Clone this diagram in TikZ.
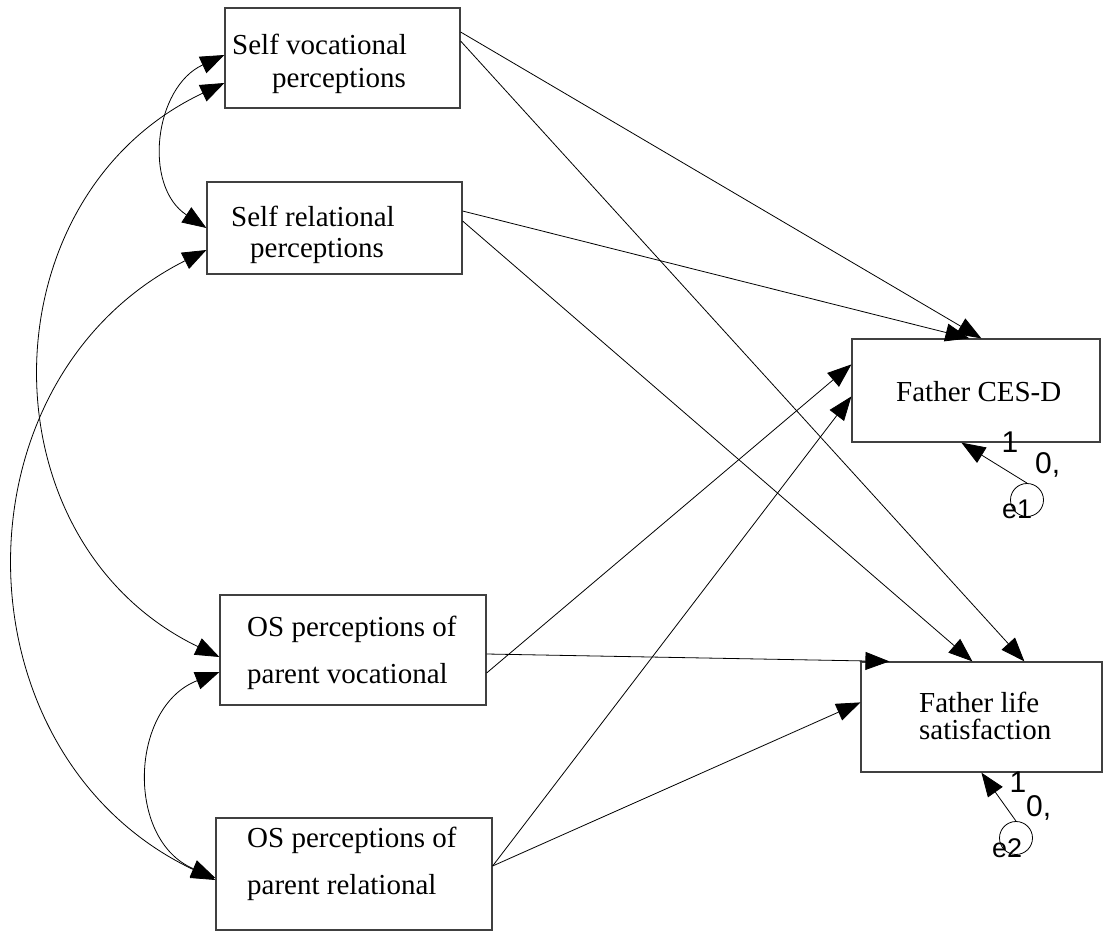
\documentclass[tikz,border=0pt]{standalone}
\usepackage{fontspec}
\setmainfont{Liberation Serif}
\newfontfamily\numfont{Liberation Sans}
\usetikzlibrary{arrows.meta,calc}
\begin{document}
\begin{tikzpicture}[x=1pt,y=-1pt,
  box/.style={draw=black!75, line width=1.2pt, rectangle, inner sep=0pt},
  lbl/.style={font=\fontsize{29}{33}\selectfont, inner sep=0pt, anchor=base west},
  num/.style={font=\numfont\fontsize{30}{34}\selectfont, inner sep=0pt},
  elbl/.style={font=\numfont\fontsize{27}{30}\selectfont, inner sep=0pt, anchor=base west},
  reg/.style={draw, line width=0.8pt, -{Triangle[length=24pt,width=18pt]}},
  cov/.style={draw, line width=0.8pt, {Triangle[length=24pt,width=18pt]}-{Triangle[length=24pt,width=18pt]}},
  errc/.style={circle, draw, line width=0.8pt, minimum size=33pt, inner sep=0pt}]
\useasboundingbox (0,0) rectangle (1109,934);

% observed variables
\node[box, minimum width=235pt, minimum height=100pt] (sv)  at (342.5,58)  {};
\node[box, minimum width=255pt, minimum height=92pt]  (sr)  at (334.5,228) {};
\node[box, minimum width=266pt, minimum height=110pt] (osv) at (353,650)   {};
\node[box, minimum width=276pt, minimum height=112pt] (osr) at (354,874)   {};
\node[box, minimum width=248pt, minimum height=103pt] (ces) at (976,390.5) {};
\node[box, minimum width=241pt, minimum height=110pt] (fls) at (981.5,717) {};

% box captions
\node[lbl] (sv1)  at (232,55)  {Self vocational};
\node[lbl] (sv2)  at (272,88)  {perceptions};
\node[lbl] (sr1)  at (231,226) {Self relational};
\node[lbl] (sr2)  at (250,257) {perceptions};
\node[lbl] (osv1) at (247,636) {OS perceptions of};
\node[lbl] (osv2) at (247,683) {parent vocational};
\node[lbl] (osr1) at (247,847) {OS perceptions of};
\node[lbl] (osr2) at (247,894) {parent relational};
\node[lbl] (ces1) at (896,401) {Father CES-D};
\node[lbl] (fls1) at (919,712) {Father life};
\node[lbl] (fls2) at (919,739) {satisfaction};

% error terms
\node[errc] (e1) at (1027,500) {};
\node[elbl] (e1t) at (1002,518) {e1};
\node[errc] (e2) at (1016,838) {};
\node[elbl] (e2t) at (992,857) {e2};

% fixed parameters
\node[num, anchor=base]      (cesw) at (1010,452) {1};
\node[num, anchor=base west] (cesm) at (1035,473) {0,};
\node[num, anchor=base]      (flsw) at (1018,792) {1};
\node[num, anchor=base west] (flsm) at (1026,816) {0,};

% regression paths
\draw[reg] ($(sv.east)+(0,-26)$) -- ($(ces.north west)+(130,0)$);
\draw[reg] ($(sv.east)+(0,-17)$) -- ($(fls.north west)+(164,0)$);
\draw[reg] ($(sr.east)+(0,-17)$) -- ($(ces.north west)+(118,0)$);
\draw[reg] ($(sr.east)+(0,-7)$)  -- ($(fls.north west)+(112,0)$);
\draw[reg] ($(osv.east)+(0,23)$) -- ($(ces.north west)+(0,26)$);
\draw[reg] ($(osv.east)+(0,4)$)  -- ($(fls.north west)+(29,0)$);
\draw[reg] ($(osr.east)+(0,-8)$) -- ($(ces.north west)+(0,58)$);
\draw[reg] ($(osr.east)+(0,-8)$) -- ($(fls.north west)+(0,41)$);
\draw[reg] (e1.north) -- ($(ces.south west)+(110,0)$);
\draw[reg] (e2.north) -- ($(fls.south west)+(121,0)$);

% covariances
\draw[cov] ($(sv.west)+(0,-3)$) .. controls +(-70,32) and +(-64,-42) .. (sr.west);
\draw[cov] ($(sv.west)+(0,25)$) .. controls +(-240,113) and +(-240,-116) .. ($(osv.west)+(0,7)$);
\draw[cov] ($(sr.west)+(0,22)$) .. controls +(-258,130) and +(-262,-124) .. ($(osr.west)+(0,6)$);
\draw[cov] ($(osv.west)+(0,22)$) .. controls +(-90,35) and +(-90,-38) .. ($(osr.west)+(0,4)$);
\end{tikzpicture}
\end{document}
